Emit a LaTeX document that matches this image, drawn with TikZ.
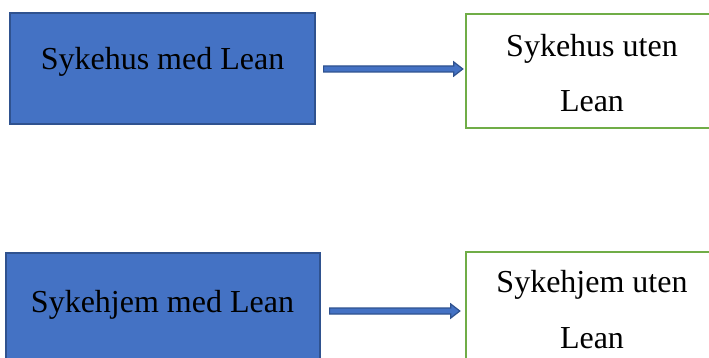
\documentclass[tikz,border=0pt]{standalone}
\usepackage{fontspec}
\setmainfont{Liberation Serif}
\usetikzlibrary{calc}
\definecolor{boxblue}{HTML}{4472C4}
\definecolor{edgeblue}{HTML}{2F528F}
\definecolor{boxgreen}{HTML}{70AD47}
\tikzset{
  bluebox/.style={draw=edgeblue, fill=boxblue, line width=1.2pt, rectangle, inner sep=0pt},
  greenbox/.style={draw=boxgreen, fill=white, line width=2.4pt, rectangle, inner sep=0pt},
  lbl/.style={font=\fontsize{32}{37}\selectfont, anchor=base, inner sep=0pt, text=black},
  blockarrow/.style={draw=edgeblue, fill=boxblue, line width=1.2pt, line join=miter}
}
\begin{document}
\begin{tikzpicture}[x=1pt,y=-1pt]
\useasboundingbox (0,0) rectangle (709,358);
\fill[white] (0,0) rectangle (709,358);
\clip (0,0) rectangle (709,358);
% boxes
\node[bluebox, minimum width=305pt, minimum height=111pt] (b1) at (162.5,68.5) {};
\node[greenbox, minimum width=252pt, minimum height=114pt] (g1) at (592,71) {};
\node[bluebox, minimum width=314pt, minimum height=112pt] (b2) at (163,309) {};
\node[greenbox, minimum width=252pt, minimum height=114pt] (g2) at (592,309) {};
% texts
\node[lbl] (t1) at (162.5,70) {Sykehus med Lean};
\node[lbl] (t2) at (592,57) {Sykehus uten};
\node[lbl] (t3) at (592,112) {Lean};
\node[lbl] (t4) at (162.5,312) {Sykehjem med Lean};
\node[lbl] (t5) at (592,292) {Sykehjem uten};
\node[lbl] (t6) at (592,348) {Lean};
% arrow coordinates
\coordinate (a1s) at ($(b1.east |- 0,69)+(8,0)$);
\coordinate (a1e) at ($(g1.west |- 0,69)+(-2,0)$);
\coordinate (a2s) at ($(b2.east |- 0,311)+(9,0)$);
\coordinate (a2e) at ($(g2.west |- 0,311)+(-5,0)$);
% block arrows
\draw[blockarrow] ($(a1s)+(0,-3)$) -- ($(a1e)+(-9,-3)$) -- ($(a1e)+(-9,-7)$) -- (a1e)
  -- ($(a1e)+(-9,7)$) -- ($(a1e)+(-9,3)$) -- ($(a1s)+(0,3)$) -- cycle;
\draw[blockarrow] ($(a2s)+(0,-3)$) -- ($(a2e)+(-9,-3)$) -- ($(a2e)+(-9,-7)$) -- (a2e)
  -- ($(a2e)+(-9,7)$) -- ($(a2e)+(-9,3)$) -- ($(a2s)+(0,3)$) -- cycle;
\end{tikzpicture}
\end{document}
